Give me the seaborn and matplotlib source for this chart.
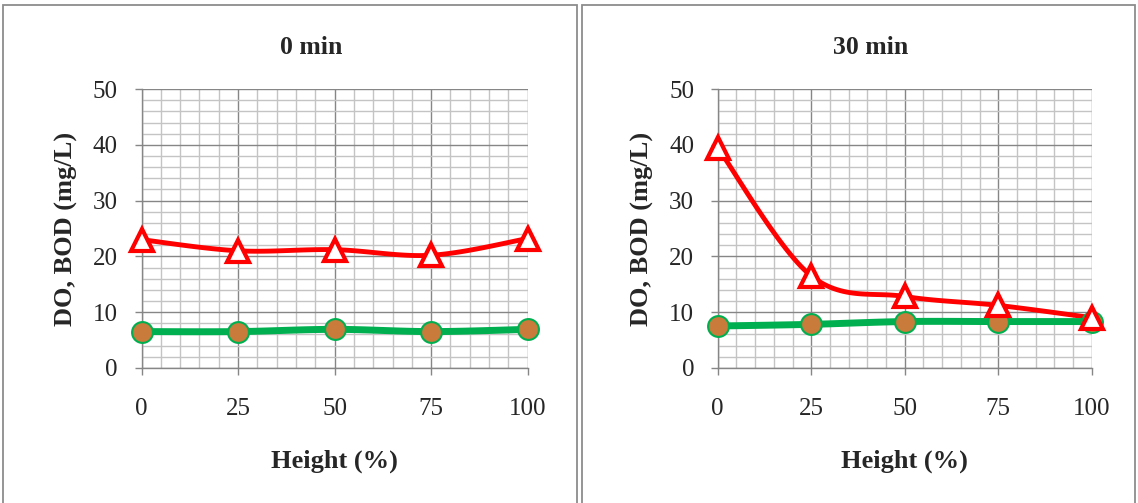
import numpy as np
import pandas as pd
import matplotlib
matplotlib.use("Agg")
import matplotlib.pyplot as plt
from matplotlib.patches import Rectangle
from matplotlib.ticker import MultipleLocator
import seaborn as sns

heights = [0, 25, 50, 75, 100]
titles = ["0 min", "30 min"]
bod_0 = [23.0, 21.0, 21.2, 20.2, 23.2]
do_0 = [6.5, 6.5, 6.9, 6.5, 6.9]
bod_30 = [39.5, 16.5, 12.8, 11.2, 9.0]
do_30 = [7.5, 7.8, 8.3, 8.3, 8.3]

sns.set_theme(style="white")
plt.rcParams["font.family"] = ["Liberation Serif", "DejaVu Serif"]


def smooth(x, y, n=30, t=1/6):
    x = np.asarray(x, float); y = np.asarray(y, float)
    px = np.concatenate([[x[0]], x, [x[-1]]])
    py = np.concatenate([[y[0]], y, [y[-1]]])
    xs, ys = [], []
    for i in range(1, len(px) - 2):
        p0 = np.array([px[i], py[i]]); p3 = np.array([px[i + 1], py[i + 1]])
        p1 = p0 + t * (np.array([px[i + 1], py[i + 1]]) - np.array([px[i - 1], py[i - 1]]))
        p2 = p3 - t * (np.array([px[i + 2], py[i + 2]]) - np.array([px[i], py[i]]))
        s = np.linspace(0, 1, n)[:, None]
        pts = (1 - s) ** 3 * p0 + 3 * (1 - s) ** 2 * s * p1 + 3 * (1 - s) * s ** 2 * p2 + s ** 3 * p3
        xs.extend(pts[:, 0]); ys.extend(pts[:, 1])
    return np.array(xs), np.array(ys)


fig = plt.figure(figsize=(11.38, 5.03), dpi=100)
W, H = 1138, 503

# panel borders
for (x0, x1) in [(3, 577), (582, 1135)]:
    fig.patches.append(Rectangle((x0 / W, 1 - 506 / H), (x1 - x0) / W, (506 - 5) / H,
                                 transform=fig.transFigure, fill=False,
                                 edgecolor="#8c8c8c", linewidth=1.3))

axes_px = [(141.5, 527.7), (717.7, 1091.7)]
data = [(bod_0, do_0), (bod_30, do_30)]
title_x = [311, 871]

for k, ((xl, xr), (bod, do)) in enumerate(zip(axes_px, data)):
    top, bot = 89.2, 367.8
    ax = fig.add_axes([xl / W, 1 - bot / H, (xr - xl) / W, (bot - top) / H])
    ax.set_xlim(0, 100); ax.set_ylim(0, 50)
    ax.xaxis.set_major_locator(MultipleLocator(25))
    ax.xaxis.set_minor_locator(MultipleLocator(5))
    ax.yaxis.set_major_locator(MultipleLocator(10))
    ax.yaxis.set_minor_locator(MultipleLocator(2))
    ax.grid(which="minor", color="#c4c4c4", linewidth=1.0)
    ax.grid(which="major", color="#868686", linewidth=1.0)
    ax.set_axisbelow(True)
    for s in ["top", "right"]:
        ax.spines[s].set_visible(False)
    for s in ["left", "bottom"]:
        ax.spines[s].set_color("#868686"); ax.spines[s].set_linewidth(1.0)
    ax.tick_params(which="major", direction="out", length=5, width=1.0, color="#868686",
                   labelsize=18, left=True, bottom=True)
    ax.tick_params(axis="y", which="major", pad=12)
    ax.tick_params(axis="x", which="major", pad=17)
    ax.tick_params(which="minor", length=0)

    sx, sy = smooth(heights, bod)
    sns.lineplot(x=sx, y=sy, ax=ax, sort=False, estimator=None, color="#ff0000",
                 linewidth=3.5, clip_on=False, zorder=3)
    dx, dy = smooth(heights, do)
    sns.lineplot(x=dx, y=dy, ax=ax, sort=False, estimator=None, color="#00b050",
                 linewidth=5, clip_on=False, zorder=3)
    ax.plot(heights, do, linestyle="none", marker="o", markersize=15,
            markerfacecolor="#c97b3c", markeredgecolor="#00b050", markeredgewidth=1.5,
            clip_on=False, zorder=4)
    ax.plot(heights, bod, linestyle="none", marker="^", markersize=15.5,
            markerfacecolor="white", markeredgecolor="#ff0000", markeredgewidth=3,
            clip_on=False, zorder=5)

    ax.set_xlabel("Height (%)", fontsize=19, fontweight="bold", labelpad=21)
    ax.set_ylabel("DO, BOD (mg/L)", fontsize=19, fontweight="bold", labelpad=11)
    fig.text(title_x[k] / W, 1 - 48 / H, titles[k], ha="center", va="center",
             fontsize=18.5, fontweight="bold")

fig.savefig("out.png", dpi=100)
